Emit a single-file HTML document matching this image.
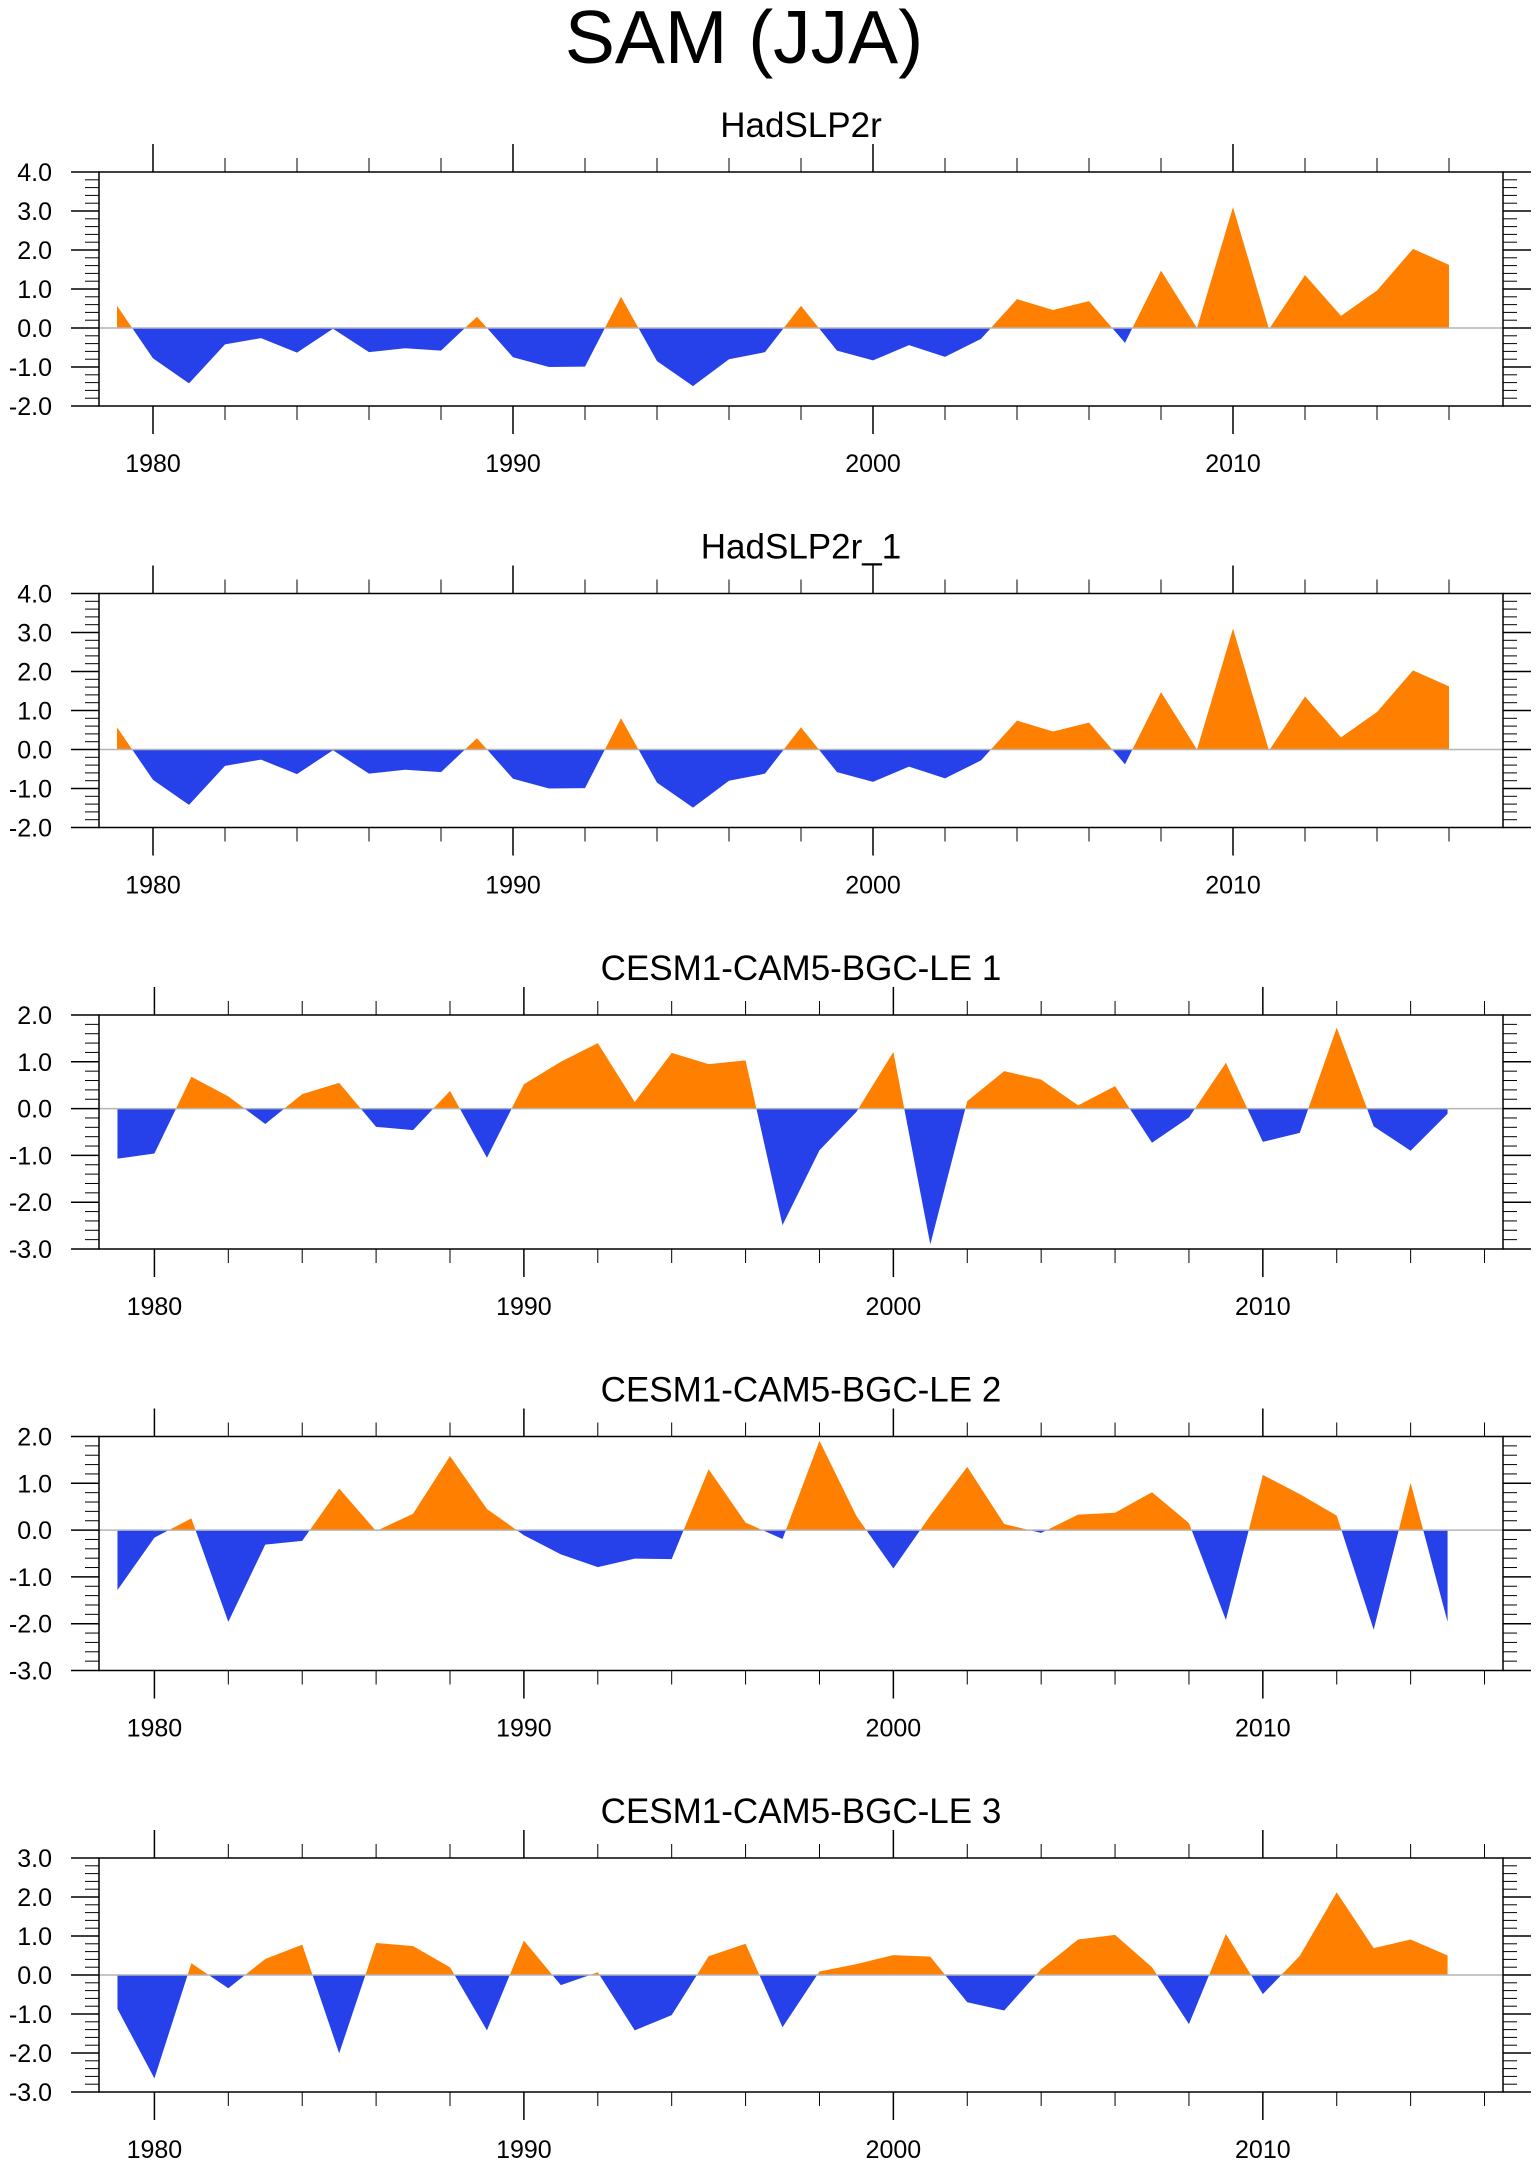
<!DOCTYPE html>
<html><head><meta charset="utf-8"><style>
html,body{margin:0;padding:0;background:#fff;}
svg{display:block;font-family:"Liberation Sans",Arial,sans-serif;}
</style></head><body>
<svg id="chart" width="1540" height="2166" viewBox="0 0 1540 2166" xmlns="http://www.w3.org/2000/svg">
<text x="744" y="63" font-size="75" text-anchor="middle" fill="#000">SAM (JJA)</text>
</svg>
<script>
const titles = ["HadSLP2r","HadSLP2r_1","CESM1-CAM5-BGC-LE 1","CESM1-CAM5-BGC-LE 2","CESM1-CAM5-BGC-LE 3"];
const yearsHad = [1979,1980,1981,1982,1983,1984,1985,1986,1987,1988,1989,1990,1991,1992,1993,1994,1995,1996,1997,1998,1999,2000,2001,2002,2003,2004,2005,2006,2007,2008,2009,2010,2011,2012,2013,2014,2015,2016];
const yearsLE = [1979,1980,1981,1982,1983,1984,1985,1986,1987,1988,1989,1990,1991,1992,1993,1994,1995,1996,1997,1998,1999,2000,2001,2002,2003,2004,2005,2006,2007,2008,2009,2010,2011,2012,2013,2014,2015];
const valuesHad = [0.57,-0.78,-1.42,-0.42,-0.26,-0.63,-0.02,-0.62,-0.52,-0.58,0.29,-0.75,-1.0,-0.99,0.8,-0.85,-1.49,-0.8,-0.62,0.57,-0.58,-0.83,-0.44,-0.74,-0.28,0.74,0.46,0.69,-0.38,1.47,0.0,3.1,-0.03,1.36,0.31,0.96,2.03,1.62];
const valuesLE1 = [-1.07,-0.96,0.68,0.26,-0.33,0.31,0.55,-0.39,-0.46,0.38,-1.05,0.52,1.0,1.40,0.14,1.19,0.95,1.03,-2.49,-0.89,-0.07,1.21,-2.9,0.16,0.8,0.62,0.07,0.48,-0.73,-0.19,0.98,-0.71,-0.52,1.73,-0.38,-0.9,-0.11];
const valuesLE2 = [-1.28,-0.16,0.25,-1.96,-0.31,-0.23,0.89,-0.02,0.35,1.58,0.45,-0.11,-0.52,-0.79,-0.61,-0.62,1.30,0.16,-0.19,1.91,0.3,-0.82,0.31,1.35,0.13,-0.06,0.33,0.37,0.81,0.15,-1.92,1.18,0.77,0.31,-2.13,1.01,-1.96];
const valuesLE3 = [-0.87,-2.65,0.30,-0.34,0.41,0.78,-2.01,0.82,0.74,0.2,-1.42,0.88,-0.26,0.07,-1.42,-1.03,0.48,0.80,-1.34,0.09,0.28,0.51,0.47,-0.70,-0.91,0.15,0.91,1.03,0.2,-1.26,1.05,-0.49,0.49,2.12,0.69,0.91,0.5];
const yMaxs = [4,4,2,2,3];
const yMins = [-2,-2,-3,-3,-3];
const xMins = [1978.5,1978.5,1978.5,1978.5,1978.5];
const xMaxs = [2017.5,2017.5,2016.5,2016.5,2016.5];
const yearLabels = [1980,1990,2000,2010];

const NS="http://www.w3.org/2000/svg";
const svg=document.getElementById('chart');
const L=99,R=1503,H=234;
function mk(tag,attrs,parent){const e=document.createElementNS(NS,tag);for(const k in attrs)e.setAttribute(k,attrs[k]);(parent||svg).appendChild(e);return e;}

const panels=[[yearsHad,valuesHad],[yearsHad,valuesHad],[yearsLE,valuesLE1],[yearsLE,valuesLE2],[yearsLE,valuesLE3]];
panels.forEach((p,i)=>{
  const top=172+421.5*i, bot=top+H;
  const yMax=yMaxs[i], yMin=yMins[i], xMin=xMins[i], xMax=xMaxs[i];
  const xs=v=>L+(v-xMin)/(xMax-xMin)*(R-L);
  const ys=v=>top+(yMax-v)/(yMax-yMin)*H;
  const g=mk('g',{});
  
  
  const t=mk('text',{x:801,y:top-35,'font-size':35,'text-anchor':'middle',fill:'#000'},g);
  t.textContent=titles[i];
  
  
  const yrs=p[0], vals=p[1], z=ys(0);
  let pts=xs(yrs[0])+','+z+' ';
  yrs.forEach((y,k)=>{pts+=xs(y)+','+ys(vals[k])+' ';});
  pts+=xs(yrs[yrs.length-1])+','+z;
  const cu=mk('clipPath',{id:'cu'+i},g); mk('rect',{x:L,y:top,width:R-L,height:z-top},cu);
  const cd=mk('clipPath',{id:'cd'+i},g); mk('rect',{x:L,y:z,width:R-L,height:bot-z},cd);
  const a1=mk('polygon',{points:pts,fill:'#FF8000','clip-path':'url(#cu'+i+')'},g);
  
  
  const a2=mk('polygon',{points:pts,fill:'#2741EA','clip-path':'url(#cd'+i+')'},g);
  
  
  const zl=mk('line',{x1:L,x2:R,y1:z,y2:z,stroke:'#b4b4b4','stroke-width':1.5},g);
  
  
  const fr=mk('rect',{x:L,y:top,width:R-L,height:H,fill:'none',stroke:'#000','stroke-width':1.5},g);
  
  
  // x ticks
  for(let yr=1980;yr<=xMax;yr+=2){
    const x=xs(yr), maj=yr%10===0, len=maj?28:14;
    mk('line',{x1:x,x2:x,y1:top,y2:top-len,stroke:'#000','stroke-width':maj?1.5:1},g);
    mk('line',{x1:x,x2:x,y1:bot,y2:bot+len,stroke:'#000','stroke-width':maj?1.5:1},g);
  }
  yearLabels.forEach(yr=>{
    const tl=mk('text',{x:xs(yr),y:bot+66,'font-size':25,'text-anchor':'middle',fill:'#000'},g);
    tl.textContent=yr;
    
    
  });
  // y ticks
  for(let k=Math.round(yMin*5);k<=Math.round(yMax*5);k++){
    const v=k/5, y=ys(v), maj=k%5===0, len=maj?28:14;
    mk('line',{x1:L,x2:L-len,y1:y,y2:y,stroke:'#000','stroke-width':maj?1.5:1},g);
    mk('line',{x1:R,x2:R+len,y1:y,y2:y,stroke:'#000','stroke-width':maj?1.5:1},g);
    if(maj){
      const yl=mk('text',{x:52,y:y+9,'font-size':25,'text-anchor':'end',fill:'#000'},g);
      yl.textContent=v.toFixed(1);
      
      
    }
  }
});
</script>
</body></html>
